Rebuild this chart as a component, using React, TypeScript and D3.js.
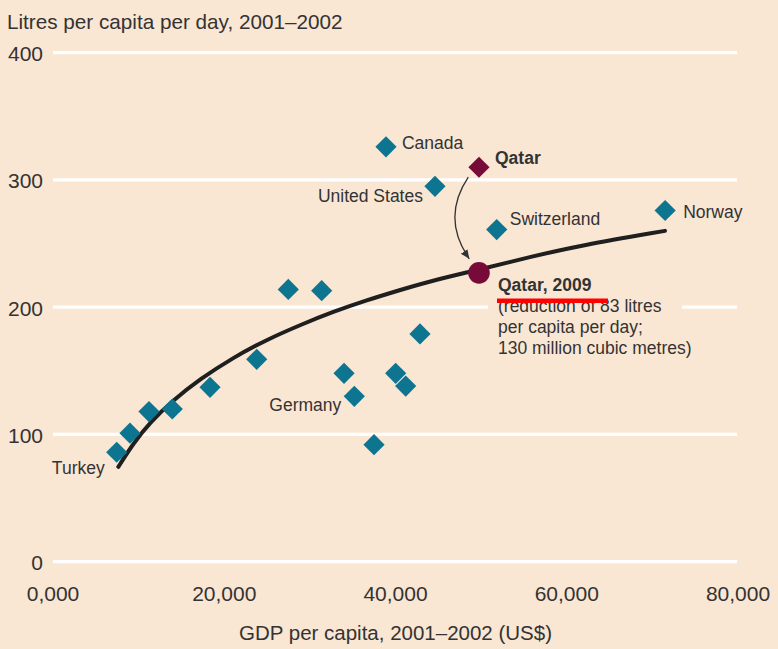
import React from "react";
import * as d3 from "d3";

// ---------- data ----------
const countryNames = [
  "Turkey", "", "", "", "", "", "", "", "", "Germany", "", "", "", "",
  "Canada", "United States", "Switzerland", "Norway",
];
const gdpPerCapita = [
  7440, 8990, 11210, 13930, 18340, 23790, 27480, 31380, 33990, 35190, 37490, 40020, 41190, 42860,
  38890, 44610, 51820, 71490,
];
const litresPerDay = [
  86, 101, 118, 120, 137, 159, 214, 213, 148, 130, 92, 148, 138, 179,
  326, 295, 261, 276,
];

const qatarGdp = 49750;
const qatarLitres2002 = 310;
const qatarLitres2009 = 227;

// trend line
const trendGdp = [7630, 9380, 11330, 14050, 17170, 21060, 24960, 28850, 32740, 36640, 40530, 44030, 49750, 55710, 61550, 71470];
const trendLitres = [74.5, 93, 109.5, 127, 143.5, 160.5, 174.5, 186, 196.5, 205.5, 213.5, 220.5, 229.5, 239.5, 248.5, 260];

const yTicks = [0, 100, 200, 300, 400];
const yTickLabels = ["0", "100", "200", "300", "400"];
const xTicks = [0, 20000, 40000, 60000, 80000];
const xTickLabels = ["0,000", "20,000", "40,000", "60,000", "80,000"];

const titleText = "Litres per capita per day, 2001–2002";
const xTitleText = "GDP per capita, 2001–2002 (US$)";
const annotTitle = "Qatar, 2009";
const annotLines = ["(reduction of 83 litres", "per capita per day;", "130 million cubic metres)"];

// ---------- label placement (styling) ----------
const labelPlacement: Record<string, { dx: number; dy: number; anchor: string }> = {
  Turkey: { dx: -12, dy: 21.5, anchor: "end" },
  Germany: { dx: -13, dy: 15, anchor: "end" },
  Canada: { dx: 16, dy: 1.8, anchor: "start" },
  "United States": { dx: -12, dy: 15.7, anchor: "end" },
  Switzerland: { dx: 13, dy: -5, anchor: "start" },
  Norway: { dx: 18, dy: 7.3, anchor: "start" },
};

const W = 778;
const H = 649;
const BG = "#f9e6d3";
const TEAL = "#0d7590";
const MAROON = "#780a3a";
const TEXT = "#333333";
const FONT = "'Liberation Sans', Arial, sans-serif";

const diamond = (cx: number, cy: number, r: number) =>
  `M${cx},${cy - r}L${cx + r},${cy}L${cx},${cy + r}L${cx - r},${cy}Z`;

export default function App() {
  const x = d3.scaleLinear().domain([0, 80000]).range([53, 738]);
  const y = d3.scaleLinear().domain([0, 400]).range([561.7, 52.7]);

  const trend = trendGdp.map((g, i) => [g, trendLitres[i]] as [number, number]);
  const line = d3
    .line<[number, number]>()
    .x((d) => x(d[0]))
    .y((d) => y(d[1]))
    .curve(d3.curveBasis);

  const qx = x(qatarGdp);
  const qy = y(qatarLitres2002);
  const q9y = y(qatarLitres2009);

  // arrow from Qatar 2002 to Qatar 2009
  const ax0 = qx - 10.7, ay0 = qy + 10;
  const ax1 = qx - 9.7, ay1 = q9y - 14;
  const acx = qx - 38, acy = (ay0 + ay1) / 2;

  return (
    <svg
      width={W}
      height={H}
      style={{ position: "absolute", left: 0, top: 0, display: "block" }}
      fontFamily={FONT}
    >
      <defs>
        <marker
          id="arrowhead"
          markerUnits="userSpaceOnUse"
          markerWidth={10}
          markerHeight={10}
          refX={9}
          refY={4}
          orient="auto"
        >
          <path d="M0,0L9,4L0,8Z" fill="#333" />
        </marker>
      </defs>
      <rect x={0} y={0} width={W} height={H} fill={BG} />

      {/* title */}
      <text x={7} y={29} fontSize={20.7} fill={TEXT}>
        {titleText}
      </text>

      {/* grid + y ticks */}
      {yTicks.map((t, i) => (
        <g key={t}>
          <line x1={x(0)} x2={x(80000) - 1} y1={y(t)} y2={y(t)} stroke="#ffffff" strokeWidth={3.2} />
          <text x={43} y={y(t) + 8.5} fontSize={21} fill={TEXT} textAnchor="end">
            {yTickLabels[i]}
          </text>
        </g>
      ))}

      {/* x ticks */}
      {xTicks.map((t, i) => (
        <text key={t} x={x(t)} y={600.5} fontSize={21} fill={TEXT} textAnchor="middle">
          {xTickLabels[i]}
        </text>
      ))}
      <text x={(x(0) + x(80000)) / 2} y={640} fontSize={20.5} fill={TEXT} textAnchor="middle">
        {xTitleText}
      </text>

      {/* mask behind annotation */}
      <rect x={qx + 9} y={q9y + 29} width={194} height={11} fill={BG} />

      {/* trend line */}
      <path d={line(trend) || ""} fill="none" stroke="#1f1f1f" strokeWidth={4} strokeLinecap="round" />

      {/* country diamonds */}
      {gdpPerCapita.map((g, i) => (
        <path key={i} d={diamond(x(g), y(litresPerDay[i]), 10.6)} fill={TEAL} />
      ))}

      {/* Qatar */}
      <path d={diamond(qx, qy, 10.6)} fill={MAROON} />
      <circle cx={qx} cy={q9y} r={10.8} fill={MAROON} />
      <path
        d={`M${ax0},${ay0}Q${acx},${acy} ${ax1},${ay1}`}
        fill="none"
        stroke="#333"
        strokeWidth={1.3}
        markerEnd="url(#arrowhead)"
      />

      {/* country labels */}
      {countryNames.map((n, i) => {
        if (!n) return null;
        const p = labelPlacement[n];
        return (
          <text
            key={n}
            x={x(gdpPerCapita[i]) + p.dx}
            y={y(litresPerDay[i]) + p.dy}
            fontSize={17.5}
            fill={TEXT}
            textAnchor={p.anchor as any}
          >
            {n}
          </text>
        );
      })}
      <text x={qx + 16} y={qy - 3.4} fontSize={17.5} fontWeight="bold" fill={TEXT}>
        Qatar
      </text>

      {/* annotation */}
      <text x={qx + 19} y={q9y + 18} fontSize={17.5} fontWeight="bold" fill={TEXT}>
        {annotTitle}
      </text>
      {annotLines.map((l, i) => (
        <text key={i} x={qx + 19} y={q9y + 39.5 + i * 20.7} fontSize={17.5} fill={TEXT}>
          {l}
        </text>
      ))}
      <line x1={qx + 18} x2={qx + 129} y1={q9y + 28} y2={q9y + 28} stroke="#ff0000" strokeWidth={4.5} />
    </svg>
  );
}
